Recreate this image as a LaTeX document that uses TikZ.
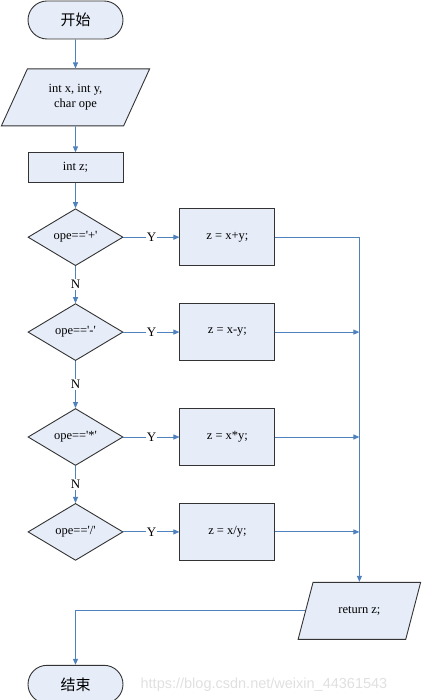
\documentclass[tikz,border=0pt]{standalone}
\usepackage{fontspec}
\setmainfont{Liberation Serif}
\newfontfamily\cjk{Noto Sans CJK SC}
\newfontfamily\wmfont{Liberation Sans}
\usepackage{xcolor}
\usetikzlibrary{positioning,arrows.meta,shapes.geometric}
\definecolor{FlowBlue}{HTML}{4F81BD}
\definecolor{BoxFill}{HTML}{E6EDF8}
\definecolor{EdgeGray}{HTML}{333333}
\newcommand{\sq}{\textquotesingle}

\begin{document}
\begin{tikzpicture}[
  font=\fontsize{12.5}{15}\selectfont,
  term/.style={draw=EdgeGray, line width=0.9pt, fill=BoxFill, rounded corners=19pt,
    minimum width=95pt, minimum height=38pt, font=\cjk\fontsize{15}{18}\selectfont},
  io/.style={draw=EdgeGray, line width=0.9pt, fill=BoxFill, trapezium,
    trapezium left angle=63.4, trapezium right angle=116.6, trapezium stretches=true,
    minimum height=57pt, align=center},
  proc/.style={draw=EdgeGray, line width=0.9pt, fill=BoxFill,
    minimum width=95pt, minimum height=57pt},
  cond/.style={draw=EdgeGray, line width=0.9pt, fill=BoxFill, diamond, aspect=1.67,
    inner sep=0pt, minimum width=95pt, minimum height=57pt},
  arr/.style={-{Triangle[length=6pt,width=5pt]}, draw=FlowBlue, line width=0.9pt},
  lbl/.style={fill=white, inner sep=1pt, font=\fontsize{13}{15}\selectfont}
]
  \useasboundingbox (0,0) rectangle (421pt,700pt);

  \node[term] (start) at (75.5pt,680pt) {开始};
  \node[io, below=29pt of start, minimum width=149pt] (in) {int x, int y,\\char ope};
  \node[proc, below=26pt of in, minimum height=30pt] (intz) {int z;};

  \node[cond, below=25pt of intz] (d1) {ope==\sq+\sq};
  \node[cond, below=37pt of d1] (d2) {ope==\sq-\sq};
  \node[cond, below=47pt of d2] (d3) {ope==\sq*\sq};
  \node[cond, below=37pt of d3] (d4) {ope==\sq/\sq};

  \node[proc, right=56pt of d1] (b1) {z = x+y;};
  \node[proc, right=56pt of d2] (b2) {z = x-y;};
  \node[proc, right=56pt of d3] (b3) {z = x*y;};
  \node[proc, right=56pt of d4] (b4) {z = x/y;};

  \node[io, below=21pt of b4, xshift=132pt, minimum width=123pt] (ret) {return z;};
  \node[term, below=104pt of d4] (end) {结束};

  \node[right=17pt of end, inner sep=0pt, text=black!12,
    font=\wmfont\fontsize{14.5}{16}\selectfont] (mark) {https://blog.csdn.net/weixin\_44361543};

  \draw[arr] (start) -- (in);
  \draw[arr] (in) -- (intz);
  \draw[arr] (intz) -- (d1);

  \draw[arr] (d1) -- node[lbl] {N} (d2);
  \draw[arr] (d2) -- node[lbl] {N} (d3);
  \draw[arr] (d3) -- node[lbl] {N} (d4);

  \draw[arr] (d1) -- node[lbl] {Y} (b1);
  \draw[arr] (d2) -- node[lbl] {Y} (b2);
  \draw[arr] (d3) -- node[lbl] {Y} (b3);
  \draw[arr] (d4) -- node[lbl] {Y} (b4);

  \draw[arr] (b1.east) -| (ret.north);
  \draw[arr] (b2.east) -- (b2 -| ret);
  \draw[arr] (b3.east) -- (b3 -| ret);
  \draw[arr] (b4.east) -- (b4 -| ret);

  \draw[arr] (ret.west) -| (end.north);
\end{tikzpicture}
\end{document}
